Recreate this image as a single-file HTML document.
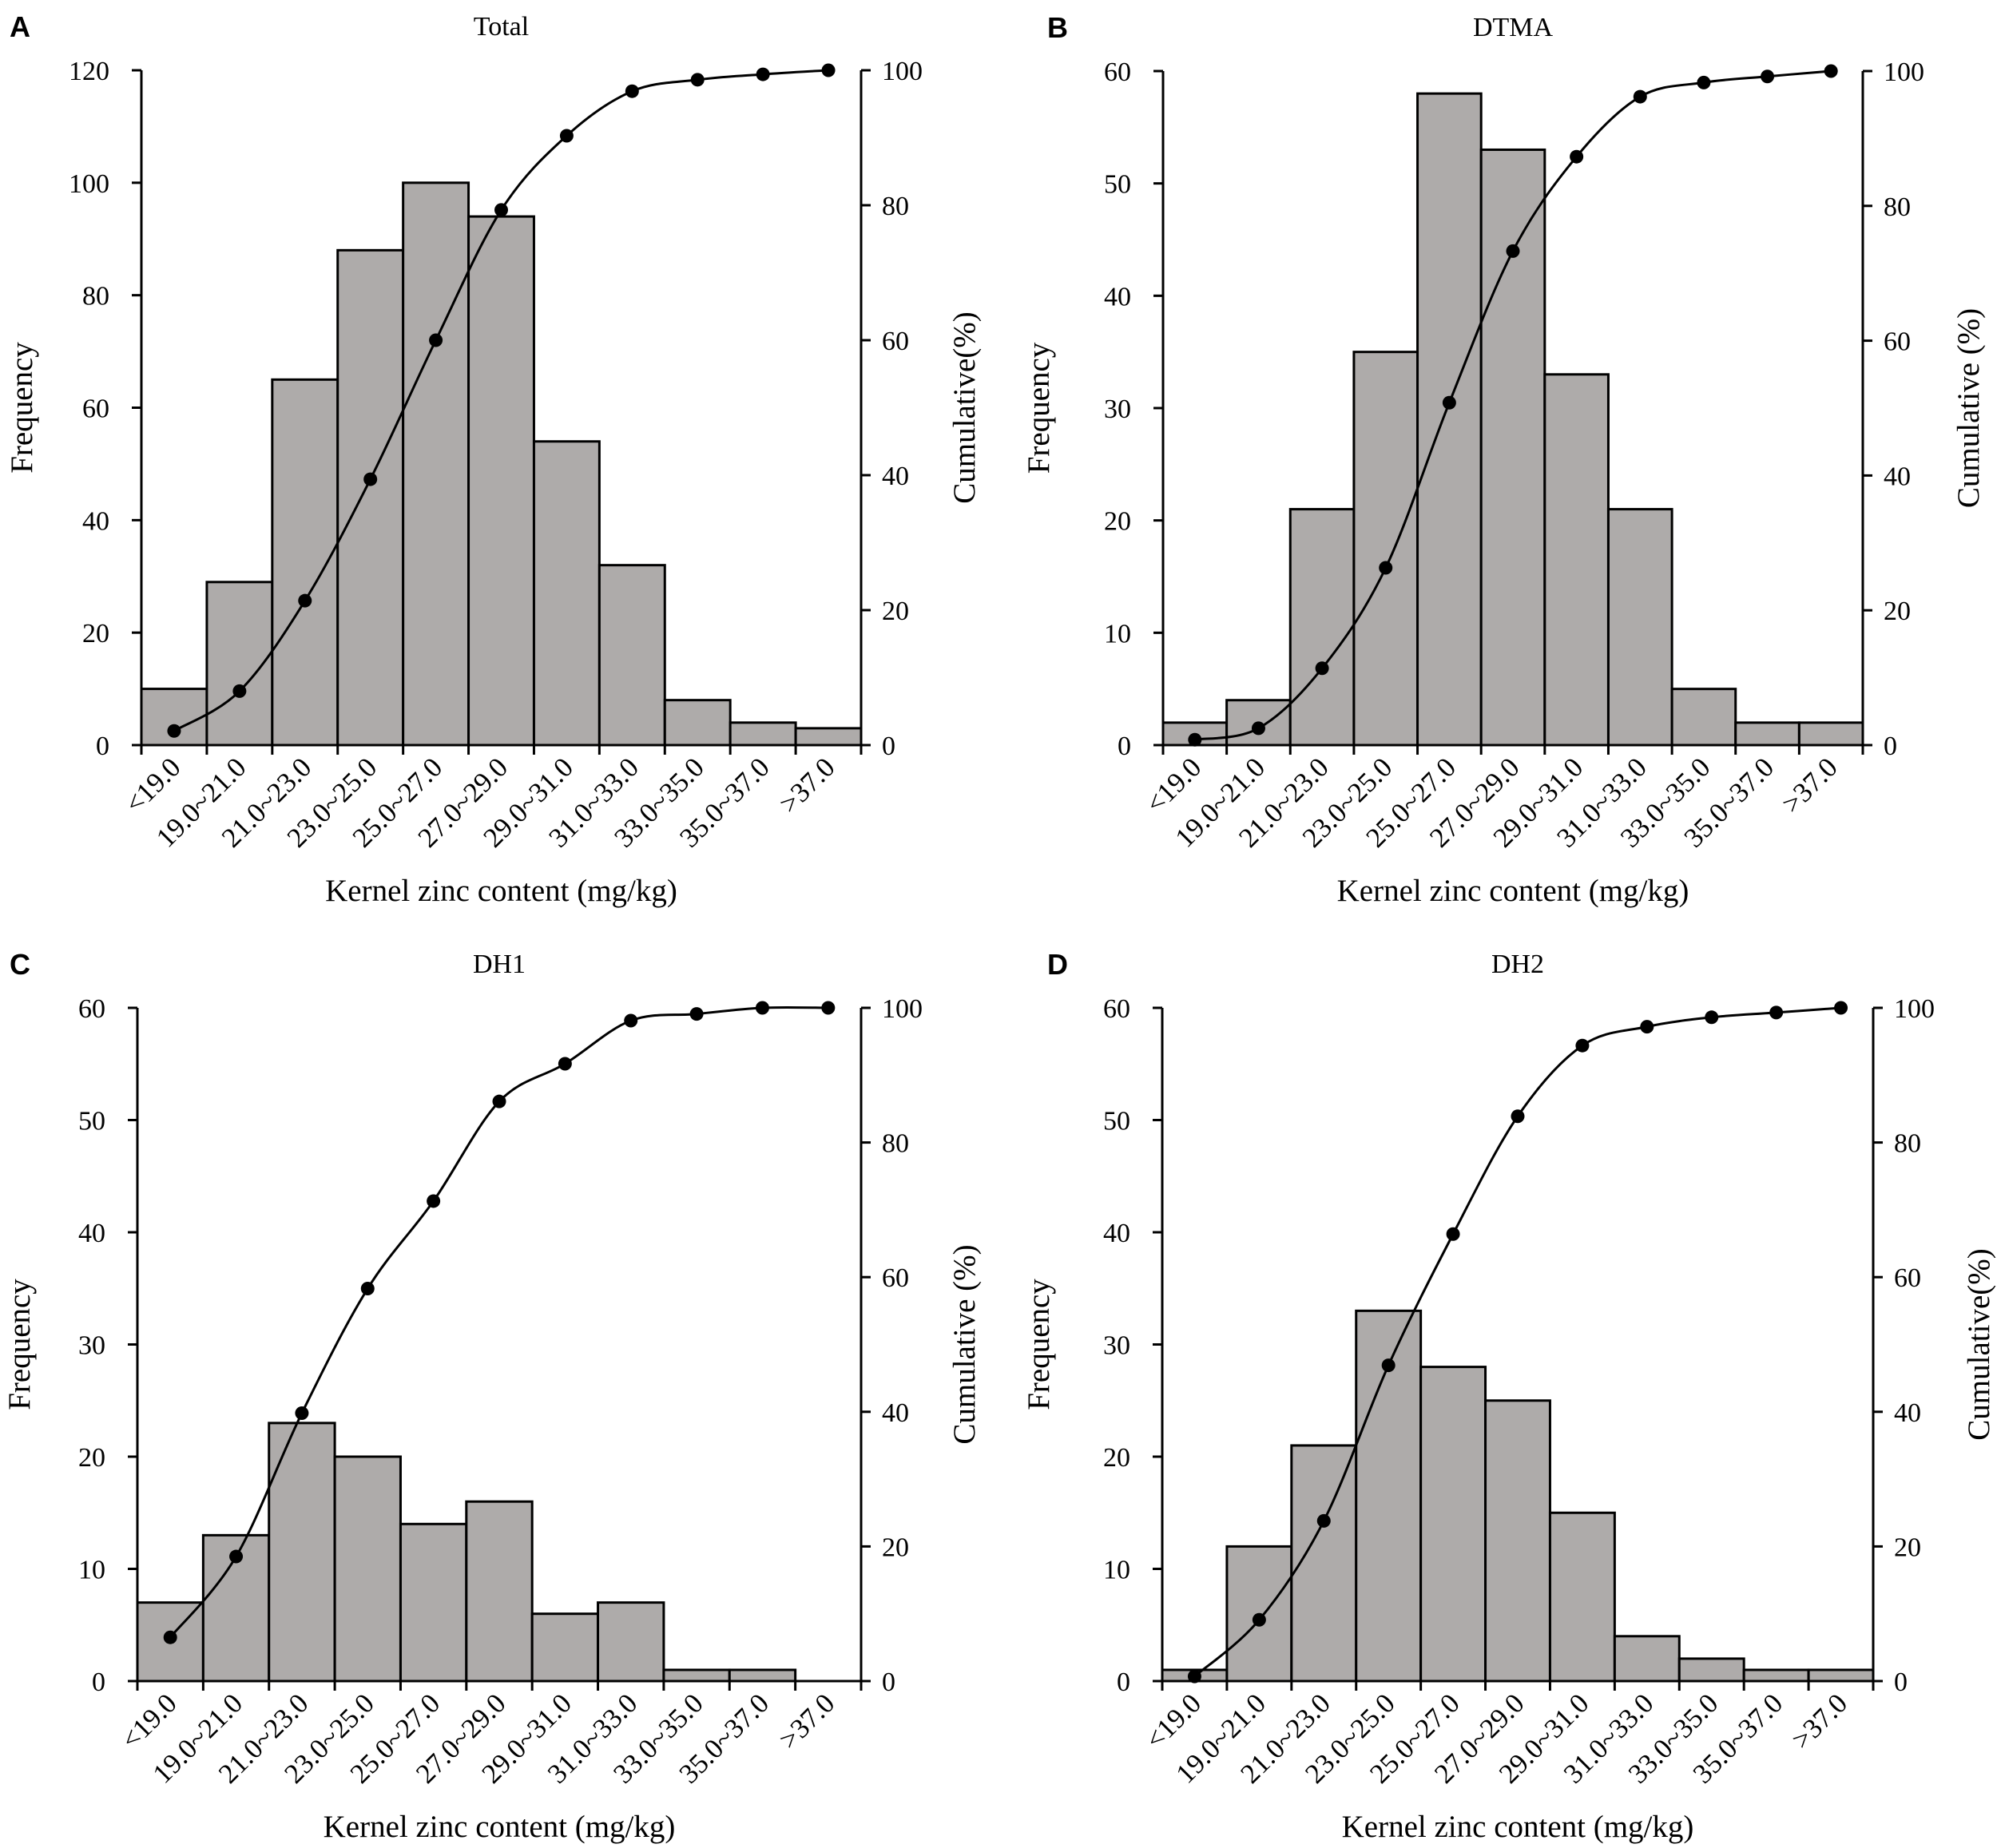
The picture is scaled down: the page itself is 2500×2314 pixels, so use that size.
<!DOCTYPE html>
<html><head><meta charset="utf-8"><style>
html,body{margin:0;padding:0;background:#fff}
svg{display:block;font-family:"Liberation Serif",serif}
</style></head><body>
<svg id="fig" width="2500" height="2314" viewBox="0 0 2500 2314" xmlns="http://www.w3.org/2000/svg"></svg>
<script>
const categories = ["<19.0","19.0~21.0","21.0~23.0","23.0~25.0","25.0~27.0","27.0~29.0","29.0~31.0","31.0~33.0","33.0~35.0","35.0~37.0",">37.0"];
const freqTotal = [10,29,65,88,100,94,54,32,8,4,3];
const cumTotal = [2.1,8.0,21.4,39.4,60.0,79.3,90.3,96.9,98.6,99.4,100];
const freqDTMA = [2,4,21,35,58,53,33,21,5,2,2];
const cumDTMA = [0.8,2.5,11.4,26.3,50.8,73.3,87.3,96.2,98.3,99.2,100];
const freqDH1 = [7,13,23,20,14,16,6,7,1,1,0];
const cumDH1 = [6.5,18.5,39.8,58.3,71.3,86.1,91.7,98.1,99.1,100,100];
const freqDH2 = [1,12,21,33,28,25,15,4,2,1,1];
const cumDH2 = [0.7,9.1,23.8,46.9,66.4,83.9,94.4,97.2,98.6,99.3,100];
const ticksA = [0,20,40,60,80,100,120];
const ticks60 = [0,10,20,30,40,50,60];
const ticksCum = [0,20,40,60,80,100];

const NS="http://www.w3.org/2000/svg";
const svg=document.getElementById('fig');
function mk(tag,attrs,parent,text){const e=document.createElementNS(NS,tag);for(const k in attrs)e.setAttribute(k,attrs[k]);if(text!==undefined)e.textContent=text;(parent||svg).appendChild(e);return e;}

const panels=[
 {id:'a',letter:'A',title:'Total',L:177,R:1078,T:88,B:933,freq:freqTotal,cum:cumTotal,ticks:ticksA,lx:27,rx:1207,cumLabel:'Cumulative(%)',letterX:12},
 {id:'b',letter:'B',title:'DTMA',L:1456,R:2332,T:89,B:933,freq:freqDTMA,cum:cumDTMA,ticks:ticks60,lx:1300,rx:2464,cumLabel:'Cumulative (%)',letterX:1311},
 {id:'c',letter:'C',title:'DH1',L:172,R:1078,T:1262,B:2105,freq:freqDH1,cum:cumDH1,ticks:ticks60,lx:24,rx:1207,cumLabel:'Cumulative (%)',letterX:12},
 {id:'d',letter:'D',title:'DH2',L:1455,R:2345,T:1262,B:2105,freq:freqDH2,cum:cumDH2,ticks:ticks60,lx:1300,rx:2477,cumLabel:'Cumulative(%)',letterX:1311}
];

panels.forEach(p=>{
  const g=mk('g',{});
  
  
  const n=categories.length, bw=(p.R-p.L)/n;
  const ymax=p.ticks[p.ticks.length-1];
  const y=v=>p.B-(v/ymax)*(p.B-p.T);
  const yc=v=>p.B-(v/100)*(p.B-p.T);
  const xc=i=>p.L+bw*(i+0.5);
  const titleY=p.T-56;
  const lt=mk('text',{x:p.letterX,y:titleY+14,'font-family':'Liberation Sans,sans-serif','font-weight':'bold','font-size':36},g,p.letter);
  
  
  const tt=mk('text',{x:(p.L+p.R)/2,y:titleY+12,'text-anchor':'middle','font-size':34},g,p.title);
  
  
  p.freq.forEach((v,i)=>{
    if(v<=0)return;
    const r=mk('rect',{x:p.L+bw*i,y:y(v),width:bw,height:p.B-y(v),fill:'#aeabaa',stroke:'#000','stroke-width':3},g);
    
    
  });
  mk('line',{x1:p.L,y1:p.T,x2:p.L,y2:p.B,stroke:'#000','stroke-width':3},g);
  mk('line',{x1:p.R,y1:p.T,x2:p.R,y2:p.B,stroke:'#000','stroke-width':3},g);
  mk('line',{x1:p.L,y1:p.B,x2:p.R,y2:p.B,stroke:'#000','stroke-width':3},g);
  p.ticks.forEach(t=>{
    mk('line',{x1:p.L-12,y1:y(t),x2:p.L,y2:y(t),stroke:'#000','stroke-width':3},g);
    const tl=mk('text',{x:p.L-40,y:y(t)+12,'text-anchor':'end','font-size':34},g,String(t));
    
    
  });
  ticksCum.forEach(t=>{
    mk('line',{x1:p.R,y1:yc(t),x2:p.R+12,y2:yc(t),stroke:'#000','stroke-width':3},g);
    const tl=mk('text',{x:p.R+26,y:yc(t)+12,'font-size':34},g,String(t));
    
    
  });
  for(let i=0;i<=n;i++){mk('line',{x1:p.L+bw*i,y1:p.B,x2:p.L+bw*i,y2:p.B+12,stroke:'#000','stroke-width':3},g);}
  categories.forEach((c,i)=>{
    const x=xc(i)+10, yy=p.B+30;
    const tl=mk('text',{x:0,y:0,'text-anchor':'end','font-size':35,transform:`translate(${x},${yy}) rotate(-45)`},g,c);
    
    
  });
  const pts=p.cum.map((v,i)=>[xc(i),yc(v)]);
  let d=`M${pts[0][0]},${pts[0][1]}`;
  for(let i=0;i<pts.length-1;i++){
    const p0=pts[Math.max(0,i-1)],p1=pts[i],p2=pts[i+1],p3=pts[Math.min(pts.length-1,i+2)];
    const c1=[p1[0]+(p2[0]-p0[0])/6,p1[1]+(p2[1]-p0[1])/6];
    const c2=[p2[0]-(p3[0]-p1[0])/6,p2[1]-(p3[1]-p1[1])/6];
    d+=` C${c1[0]},${c1[1]} ${c2[0]},${c2[1]} ${p2[0]},${p2[1]}`;
  }
  const line=mk('path',{d:d,fill:'none',stroke:'#000','stroke-width':3},g);
  
  
  pts.forEach((q,i)=>{
    const c=mk('circle',{cx:q[0],cy:q[1],r:8.5,fill:'#000'},g);
    
    
  });
  const my=(p.T+p.B)/2;
  const fl=mk('text',{x:0,y:0,'text-anchor':'middle','font-size':39,transform:`translate(${p.lx+13},${my}) rotate(-90)`},g,'Frequency');
  
  
  const cl=mk('text',{x:0,y:0,'text-anchor':'middle','font-size':39,transform:`translate(${p.rx+13},${my}) rotate(-90)`},g,p.cumLabel);
  
  
  const xl=mk('text',{x:(p.L+p.R)/2,y:p.B+195,'text-anchor':'middle','font-size':39},g,'Kernel zinc content (mg/kg)');
  
  
});
</script>
</body></html>
